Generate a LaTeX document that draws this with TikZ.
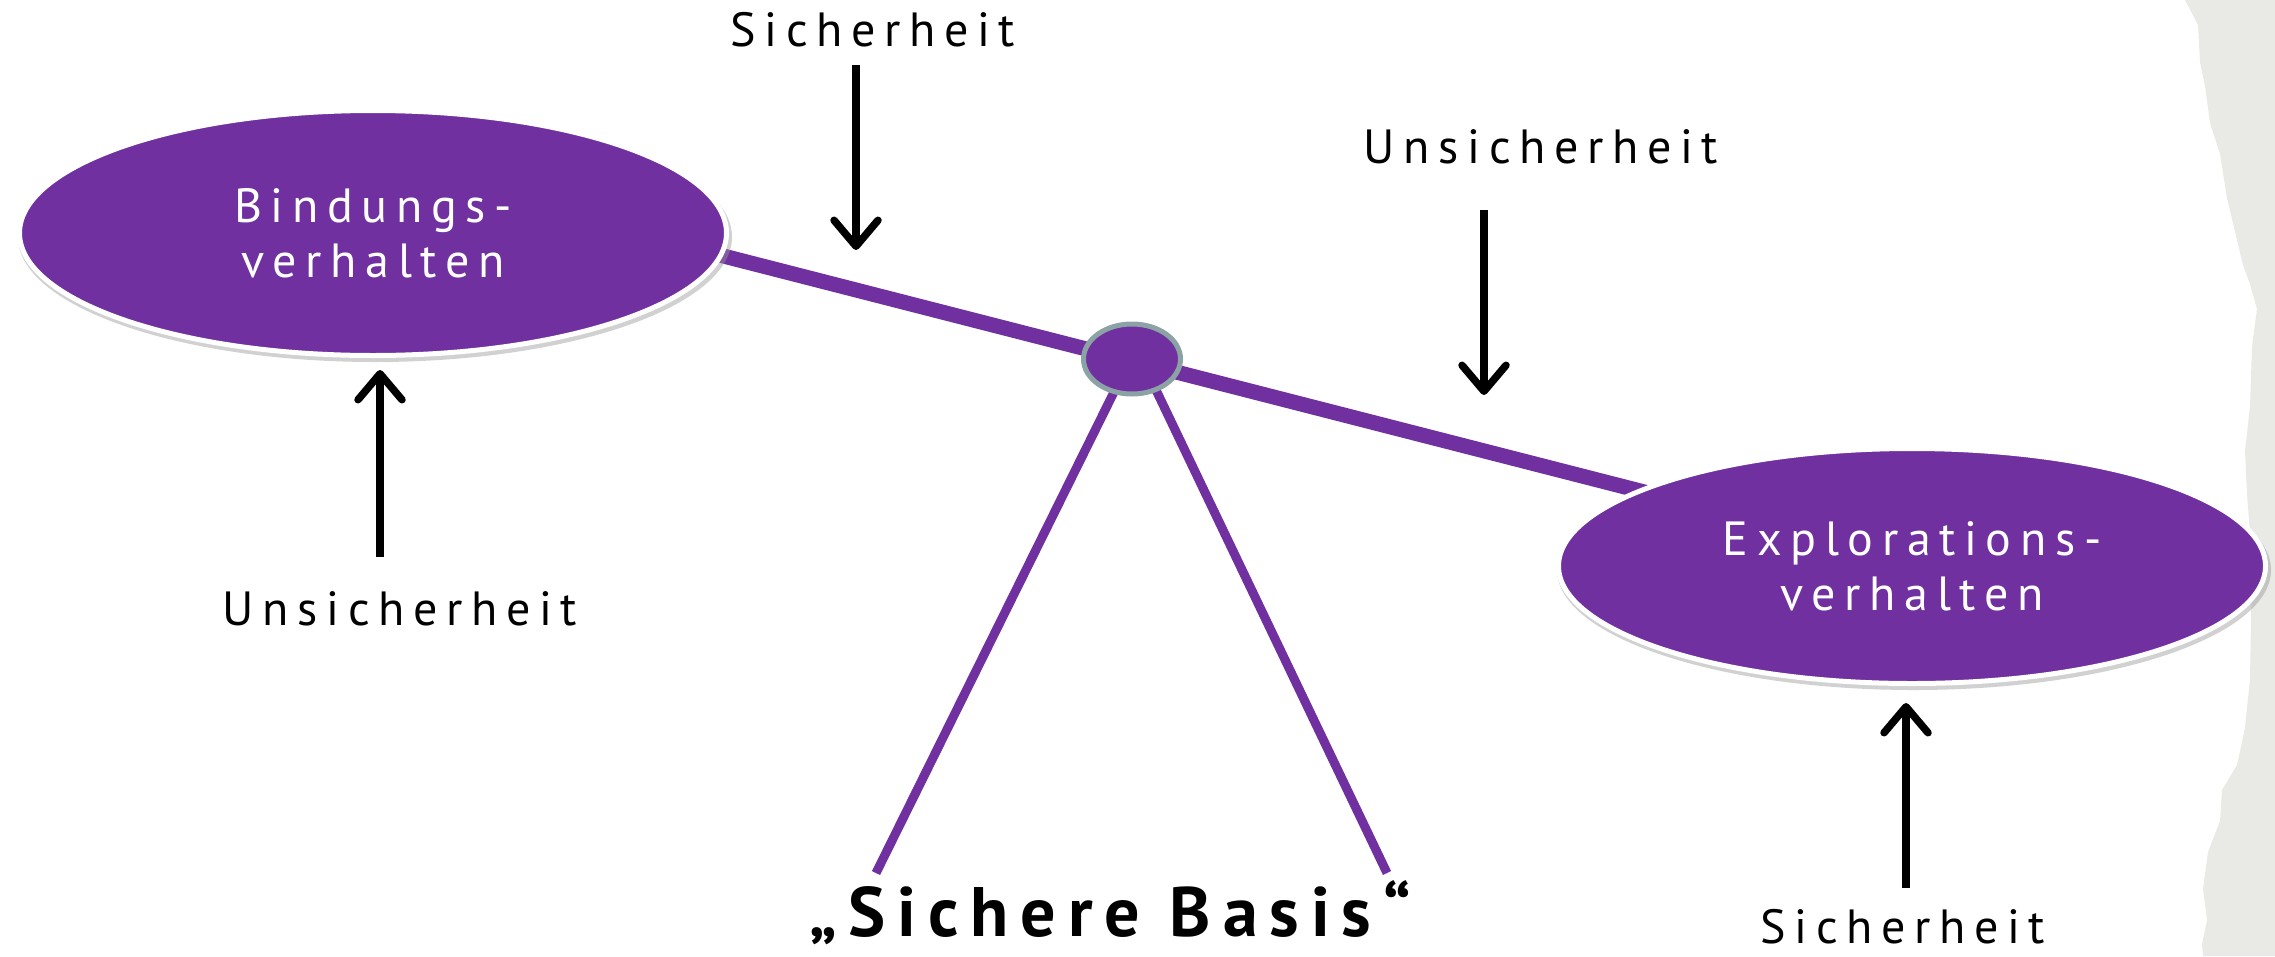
\documentclass[tikz,border=0pt]{standalone}
\usepackage{fontspec}
\setmainfont{PT Sans}
\newfontfamily\lblfont{PT Sans}[LetterSpace=18]
\newfontfamily\basfont{PT Sans}[LetterSpace=17]
\usetikzlibrary{arrows.meta,shapes.geometric}
\definecolor{purp}{RGB}{112,48,160}
\definecolor{pivline}{RGB}{139,163,165}
\definecolor{paper}{RGB}{233,233,229}
\tikzset{
  ell/.style={ellipse, fill=purp, draw=white, line width=5pt, inner sep=0pt,
    text=white, align=center, font=\lblfont\fontsize{48}{55}\selectfont},
  lbl/.style={font=\lblfont\fontsize{48}{55}\selectfont, inner sep=0pt, anchor=base},
  beam/.style={draw=purp, line width=15pt},
  leg/.style={draw=purp, line width=9pt},
  arr/.style={draw=black, line width=7.5pt, -{Straight Barb[length=26pt,width=44pt,round]}},
  shade/.style={fill=black!40, opacity=0.45},
}
\begin{document}
\begin{tikzpicture}[x=1pt,y=-1pt]
\useasboundingbox (0,0) rectangle (2275,956);
\fill[white] (0,0) rectangle (2275,956);
% torn paper edge
\fill[paper] (2185,0) -- (2198,25) -- (2200,62) -- (2205,86) -- (2210,123) -- (2220,154)
  -- (2227,198) -- (2243,265) -- (2250,284) -- (2257,309) -- (2252,346) -- (2250,407)
  -- (2245,451) -- (2247,494) -- (2252,560) -- (2250,679) -- (2245,728) -- (2237,765)
  -- (2222,790) -- (2220,821) -- (2208,852) -- (2203,889) -- (2207,920) -- (2202,944)
  -- (2203,956) -- (2275,956) -- (2275,0) -- cycle;
% beam and legs
\coordinate (bA) at (700,250);
\coordinate (bB) at (1660,496);
\coordinate (lA) at (1115,390);
\coordinate (lB) at (876,873);
\coordinate (rA) at (1156,390);
\coordinate (rB) at (1387,873);
\draw[beam] (bA) -- (bB);
\draw[leg] (lA) -- (lB);
\draw[leg] (rA) -- (rB);
% pivot
\node[ellipse, fill=purp, draw=pivline, line width=5pt, inner sep=0pt,
      minimum width=97pt, minimum height=70pt] (piv) at (1132,359) {};
% ellipses with soft shadow
\fill[shade] (375,237) ellipse [x radius=357pt, y radius=125pt];
\fill[shade] (1914,570) ellipse [x radius=357pt, y radius=120pt];
\node[ell, minimum width=707pt, minimum height=245pt] (bind) at (373,233) {Bindungs-\\verhalten};
\node[ell, minimum width=707pt, minimum height=235pt] (expl) at (1912,566) {Explorations-\\verhalten};
% labels
\node[lbl] (s1) at (873,46) {Sicherheit};
\node[lbl] (u1) at (1541,163) {Unsicherheit};
\node[lbl] (u2) at (400,625) {Unsicherheit};
\node[lbl] (s2) at (1903,943) {Sicherheit};
\node[font=\basfont\bfseries\fontsize{70}{76}\selectfont, inner sep=0pt, anchor=base] (basis) at (1110,936) {„Sichere Basis“};
% arrows
\coordinate (a1s) at (856,65);   \coordinate (a1e) at (856,250);
\coordinate (a2s) at (1484,210); \coordinate (a2e) at (1484,395);
\coordinate (a3s) at (380,557);  \coordinate (a3e) at (380,370);
\coordinate (a4s) at (1906,888); \coordinate (a4e) at (1906,703);
\draw[arr] (a1s) -- (a1e);
\draw[arr] (a2s) -- (a2e);
\draw[arr] (a3s) -- (a3e);
\draw[arr] (a4s) -- (a4e);
\end{tikzpicture}
\end{document}
